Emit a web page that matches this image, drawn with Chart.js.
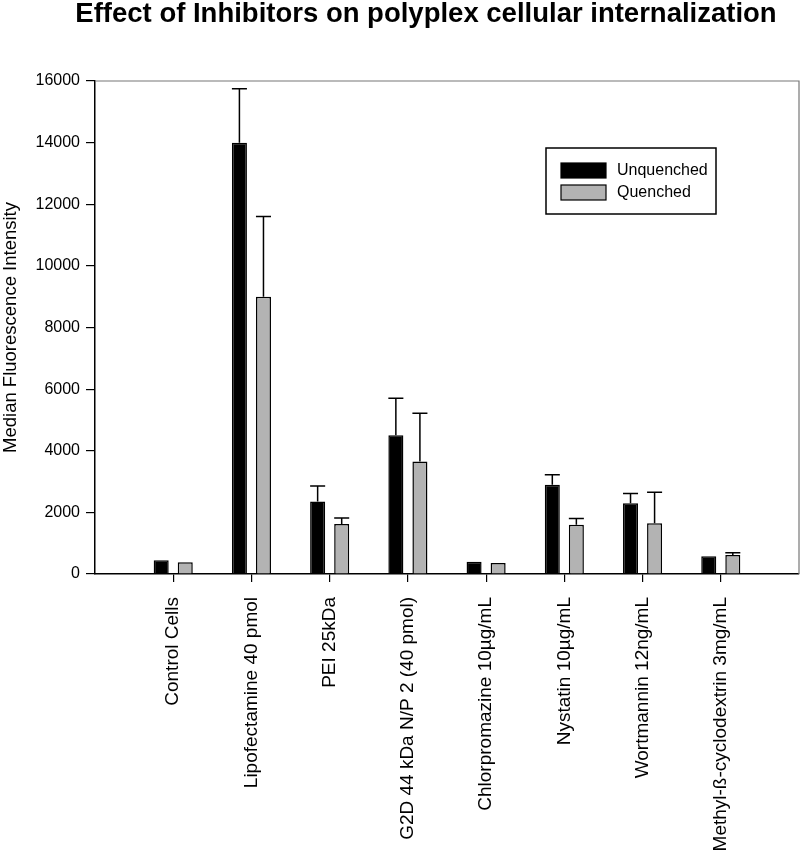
<!DOCTYPE html>
<html>
<head>
<meta charset="utf-8">
<script src="https://cdn.jsdelivr.net/npm/chart.js@4/dist/chart.umd.min.js"></script>
<style>
  html, body { margin: 0; padding: 0; background: #ffffff; }
  #wrap { width: 800px; height: 862px; }
</style>
</head>
<body>
<div id="wrap"><canvas id="c" width="800" height="862"></canvas></div>
<script>
// ---- data ----
const categories = [
  "Control Cells",
  "Lipofectamine 40 pmol",
  "PEI 25kDa",
  "G2D 44 kDa N/P 2 (40 pmol)",
  "Chlorpromazine 10µg/mL",
  "Nystatin 10µg/mL",
  "Wortmannin 12ng/mL",
  "Methyl-ß-cyclodextrin 3mg/mL"
];
const unquenched    = [450, 14000, 2350, 4500, 400, 2900, 2300, 580];
const unquenchedErr = [0,   1750,  510,  1200, 0,   320,  310,  0];
const quenched      = [380, 9000,  1620, 3650, 360, 1600, 1650, 620];
const quenchedErr   = [0,   2600,  200,  1570, 0,   200,  1000, 70];
const yTicks = [0, 2000, 4000, 6000, 8000, 10000, 12000, 14000, 16000];
const titleText = "Effect of Inhibitors on polyplex cellular internalization";
const yTitle = "Median Fluorescence Intensity";

// padded labels: one empty slot on each side of the categories
const labels = [""].concat(categories, [""]);
const pad = arr => [null].concat(arr, [null]);

const FONT = "'Liberation Sans', Arial, Helvetica, sans-serif";

const errorBars = {
  id: 'errorBars',
  afterDatasetsDraw(chart) {
    const ctx = chart.ctx;
    const y = chart.scales.y;
    ctx.save();
    ctx.strokeStyle = '#000';
    ctx.lineWidth = 1.5;
    chart.data.datasets.forEach((ds, di) => {
      const meta = chart.getDatasetMeta(di);
      meta.data.forEach((bar, i) => {
        const e = ds.errors[i];
        const v = ds.data[i];
        if (v == null || !e) return;
        const yTop = y.getPixelForValue(v + e);
        const yBase = y.getPixelForValue(v);
        const half = bar.width / 2;
        ctx.beginPath();
        ctx.moveTo(bar.x, yBase);
        ctx.lineTo(bar.x, yTop);
        ctx.moveTo(bar.x - half, yTop);
        ctx.lineTo(bar.x + half, yTop);
        ctx.stroke();
      });
    });
    ctx.restore();
  }
};

const frameAndText = {
  id: 'frameAndText',
  beforeDraw(chart) {
    const ctx = chart.ctx;
    ctx.save();
    ctx.fillStyle = '#fff';
    ctx.fillRect(0, 0, chart.width, chart.height);
    ctx.restore();
  },
  afterDraw(chart) {
    const ctx = chart.ctx;
    const a = chart.chartArea;
    ctx.save();
    // top & right frame lines
    ctx.strokeStyle = '#777';
    ctx.lineWidth = 1.2;
    ctx.beginPath();
    ctx.moveTo(a.left, a.top);
    ctx.lineTo(a.right, a.top);
    ctx.lineTo(a.right, a.bottom);
    ctx.stroke();
    // title
    ctx.fillStyle = '#000';
    ctx.font = "bold 27.5px " + FONT;
    ctx.textAlign = 'center';
    ctx.textBaseline = 'alphabetic';
    ctx.fillText(titleText, 426, 22);
    // legend
    const lx = 546, ly = 148, lw = 170, lh = 66;
    ctx.strokeStyle = '#000';
    ctx.lineWidth = 1.5;
    ctx.strokeRect(lx, ly, lw, lh);
    ctx.font = "16px " + FONT;
    ctx.textAlign = 'left';
    ctx.textBaseline = 'middle';
    chart.data.datasets.forEach((ds, i) => {
      const sy = ly + 15 + i * 22;
      ctx.fillStyle = ds.backgroundColor;
      ctx.fillRect(lx + 15, sy, 45, 15);
      ctx.strokeStyle = '#000';
      ctx.lineWidth = 1.2;
      ctx.strokeRect(lx + 15, sy, 45, 15);
      ctx.fillStyle = '#000';
      ctx.fillText(ds.label, lx + 71, sy + 8);
    });
    ctx.restore();
  }
};

new Chart(document.getElementById('c'), {
  type: 'bar',
  data: {
    labels: labels,
    datasets: [
      { label: 'Unquenched', data: pad(unquenched), errors: pad(unquenchedErr),
        backgroundColor: '#000000', borderColor: '#000000', borderWidth: 1.5 },
      { label: 'Quenched', data: pad(quenched), errors: pad(quenchedErr),
        backgroundColor: '#b3b3b3', borderColor: '#000000', borderWidth: 1.5 }
    ]
  },
  options: {
    responsive: false,
    animation: false,
    devicePixelRatio: 1,
    categoryPercentage: 0.615,
    barPercentage: 0.625,
    layout: { padding: { top: 81, right: 1, left: 0, bottom: 0 } },
    plugins: {
      legend: { display: false },
      tooltip: { enabled: false },
      title: { display: false }
    },
    scales: {
      x: {
        type: 'category',
        offset: false,
        afterFit(s) { s.height = 288; s.paddingLeft = 0; s.paddingRight = 0; },
        grid: {
          offset: false,
          drawOnChartArea: false,
          drawTicks: true,
          tickLength: 8,
          lineWidth: 1.2,
          color: ctx => (ctx.index === 0 || ctx.index === labels.length - 1) ? 'rgba(0,0,0,0)' : '#000'
        },
        border: { display: true, color: '#000', width: 1.5 },
        ticks: {
          autoSkip: false,
          maxRotation: 90,
          minRotation: 90,
          padding: 15,
          color: '#000',
          font: { family: FONT, size: 19 }
        }
      },
      y: {
        min: 0,
        max: 16000,
        afterFit(s) { s.width = 95; s.paddingTop = 0; s.paddingBottom = 0; },
        afterBuildTicks(s) { s.ticks = yTicks.map(v => ({ value: v })); },
        grid: {
          drawOnChartArea: false,
          drawTicks: true,
          tickLength: 9,
          lineWidth: 1.2,
          color: '#000'
        },
        border: { display: true, color: '#000', width: 1.5 },
        ticks: {
          padding: 6,
          color: '#000',
          font: { family: FONT, size: 16 },
          callback: v => String(v)
        },
        title: {
          display: true,
          text: yTitle,
          color: '#000',
          font: { family: FONT, size: 18.5 },
          padding: { top: 0, bottom: 0 }
        }
      }
    }
  },
  plugins: [errorBars, frameAndText]
});
</script>
</body>
</html>
